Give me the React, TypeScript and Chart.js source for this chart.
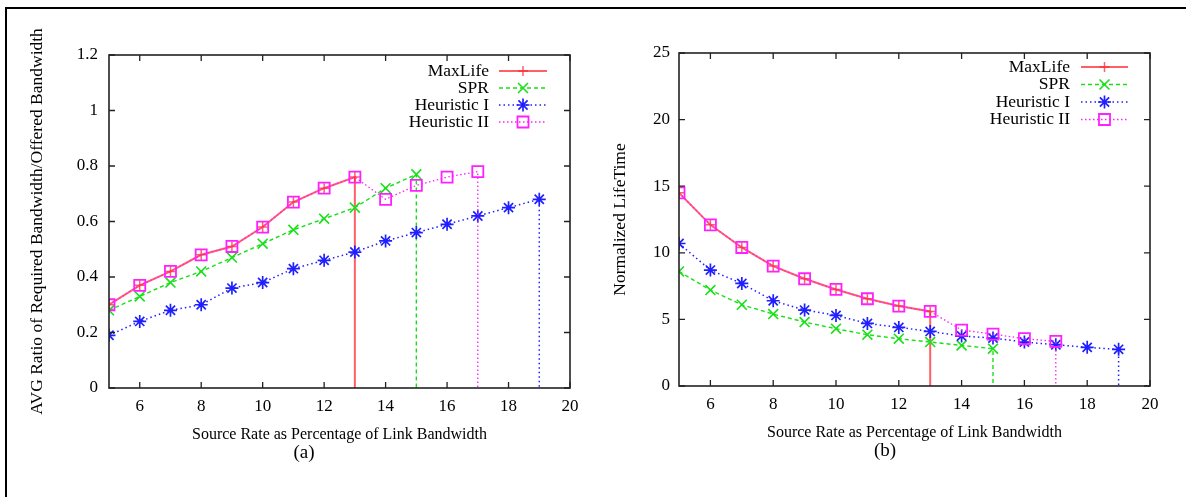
import React, { useEffect, useRef } from 'react';
import { Chart, registerables } from 'chart.js';

Chart.register(...registerables);

// ---------- data ----------
const xValues = [5, 6, 7, 8, 9, 10, 11, 12, 13, 14, 15, 16, 17, 18, 19];
const xTickValues = [6, 8, 10, 12, 14, 16, 18, 20];
const seriesNames = ['MaxLife', 'SPR', 'Heuristic I', 'Heuristic II'];

const leftYTicks = [0, 0.2, 0.4, 0.6, 0.8, 1, 1.2];
const leftMaxLife = [0.30, 0.37, 0.42, 0.48, 0.51, 0.58, 0.67, 0.72, 0.76];
const leftSPR = [0.28, 0.33, 0.38, 0.42, 0.47, 0.52, 0.57, 0.61, 0.65, 0.72, 0.77];
const leftH1 = [0.19, 0.24, 0.28, 0.30, 0.36, 0.38, 0.43, 0.46, 0.49, 0.53, 0.56, 0.59, 0.62, 0.65, 0.68];
const leftH2 = [0.30, 0.37, 0.42, 0.48, 0.51, 0.58, 0.67, 0.72, 0.76, 0.68, 0.73, 0.76, 0.78];

const rightYTicks = [0, 5, 10, 15, 20, 25];
const rightMaxLife = [14.5, 12.1, 10.4, 9.0, 8.05, 7.25, 6.55, 6.0, 5.6];
const rightSPR = [8.6, 7.2, 6.1, 5.4, 4.8, 4.3, 3.85, 3.55, 3.3, 3.05, 2.8];
const rightH1 = [10.7, 8.7, 7.7, 6.4, 5.7, 5.3, 4.7, 4.4, 4.1, 3.75, 3.6, 3.3, 3.1, 2.9, 2.75];
const rightH2 = [14.5, 12.1, 10.4, 9.0, 8.05, 7.25, 6.55, 6.0, 5.6, 4.2, 3.9, 3.55, 3.35];

const xTitle = 'Source Rate as Percentage of Link Bandwidth';
const leftYTitle = 'AVG Ratio of Required Bandwidth/Offered Bandwidth';
const rightYTitle = 'Normalized LifeTime';
const captions = ['(a)', '(b)'];

// ---------- styles ----------
const FONT = '"Liberation Serif", "Times New Roman", Times, serif';
const TEXT = '#000';

const seriesStyles = [
  { color: 'rgba(255,35,45,0.72)', dash: [] as number[], width: 2, point: 'cross', radius: 5, pw: 1.5, order: 3 },
  { color: '#18e018', dash: [4, 3], width: 1.4, point: 'crossRot', radius: 7, pw: 1.6, order: 2 },
  { color: '#2020ff', dash: [1.5, 3], width: 1.5, point: 'star', radius: 6.5, pw: 1.7, order: 1 },
  { color: '#ff20ff', dash: [1.5, 2.5], width: 1.3, point: 'rect', radius: 7.8, pw: 1.8, order: 0 },
];

function drawMarker(ctx: CanvasRenderingContext2D, type: string, x: number, y: number, r: number) {
  ctx.beginPath();
  if (type === 'cross' || type === 'star') {
    ctx.moveTo(x, y - r); ctx.lineTo(x, y + r);
    ctx.moveTo(x - r, y); ctx.lineTo(x + r, y);
  }
  if (type === 'crossRot' || type === 'star') {
    const o = r * Math.SQRT1_2;
    ctx.moveTo(x - o, y - o); ctx.lineTo(x + o, y + o);
    ctx.moveTo(x - o, y + o); ctx.lineTo(x + o, y - o);
  }
  if (type === 'rect') {
    const s = r * Math.SQRT1_2;
    ctx.rect(x - s, y - s, 2 * s, 2 * s);
  }
  ctx.stroke();
}

function makePoints(vals: number[]) {
  const pts = vals.map((v, i) => ({ x: xValues[i], y: v }));
  pts.push({ x: xValues[vals.length - 1], y: 0 });
  return pts;
}

const framePlugin = {
  id: 'frameTicks',
  afterDatasetsDraw(chart: any) {
    const { ctx, chartArea: a, scales } = chart;
    ctx.save();
    ctx.setLineDash([]);
    ctx.strokeStyle = '#222';
    ctx.lineWidth = 1.6;
    ctx.strokeRect(a.left, a.top, a.right - a.left, a.bottom - a.top);
    ctx.lineWidth = 1.3;
    const tl = 6;
    ctx.beginPath();
    scales.x.ticks.forEach((t: any) => {
      const px = scales.x.getPixelForValue(t.value);
      ctx.moveTo(px, a.bottom); ctx.lineTo(px, a.bottom - tl);
      ctx.moveTo(px, a.top); ctx.lineTo(px, a.top + tl);
    });
    scales.y.ticks.forEach((t: any) => {
      const py = scales.y.getPixelForValue(t.value);
      ctx.moveTo(a.left, py); ctx.lineTo(a.left + tl, py);
      ctx.moveTo(a.right, py); ctx.lineTo(a.right - tl, py);
    });
    ctx.stroke();
    ctx.restore();
  },
};

function makeLegendPlugin(cfg: any) {
  return {
    id: 'gnuLegend',
    afterDraw(chart: any) {
      const ctx = chart.ctx as CanvasRenderingContext2D;
      ctx.save();
      ctx.font = `${cfg.fontSize}px ${FONT}`;
      ctx.textAlign = 'right';
      ctx.textBaseline = 'middle';
      seriesNames.forEach((name, i) => {
        const st = seriesStyles[i];
        const y = cfg.y0 + i * cfg.dy;
        ctx.fillStyle = TEXT;
        ctx.fillText(name, cfg.textRight, y);
        ctx.strokeStyle = st.color;
        ctx.lineWidth = st.width;
        ctx.setLineDash(st.dash);
        ctx.beginPath();
        ctx.moveTo(cfg.lineStart, y);
        ctx.lineTo(cfg.lineEnd, y);
        ctx.stroke();
        ctx.setLineDash([]);
        ctx.lineWidth = st.pw;
        drawMarker(ctx, st.point, (cfg.lineStart + cfg.lineEnd) / 2, y, st.radius);
      });
      ctx.restore();
    },
  };
}

const panels = [
  {
    yMax: 1.2,
    yTicks: leftYTicks,
    yTitle: leftYTitle,
    series: [leftMaxLife, leftSPR, leftH1, leftH2],
    yAxisWidth: 109,
    yTitlePad: 26.5,
    yTickPad: 11,
    padding: { top: 55, right: 23, bottom: 49, left: 0 },
    legend: { textRight: 489, y0: 71, dy: 17, lineStart: 499, lineEnd: 547, fontSize: 17.5 },
  },
  {
    yMax: 25,
    yTicks: rightYTicks,
    yTitle: rightYTitle,
    series: [rightMaxLife, rightSPR, rightH1, rightH2],
    yAxisWidth: 86,
    yTitlePad: 17.2,
    yTickPad: 9,
    padding: { top: 53, right: 36, bottom: 51, left: 0 },
    legend: { textRight: 477, y0: 67, dy: 17.5, lineStart: 488, lineEnd: 535, fontSize: 17.5 },
  },
];

function buildChart(canvas: HTMLCanvasElement, p: any) {
  const datasets = p.series.map((vals: number[], i: number) => {
    const st = seriesStyles[i];
    const n = vals.length;
    return {
      label: seriesNames[i],
      data: makePoints(vals),
      borderColor: st.color,
      borderWidth: st.width,
      borderDash: st.dash,
      backgroundColor: 'rgba(0,0,0,0)',
      pointStyle: st.point,
      pointRadius: (c: any) => (c.dataIndex === n ? 0 : st.radius),
      pointBorderColor: st.color,
      pointBackgroundColor: 'rgba(0,0,0,0)',
      pointBorderWidth: st.pw,
      tension: 0,
      fill: false,
      order: st.order,
    };
  });
  return new Chart(canvas, {
    type: 'line',
    data: { datasets },
    plugins: [framePlugin, makeLegendPlugin(p.legend)],
    options: {
      responsive: false,
      animation: false,
      events: [],
      layout: { padding: p.padding },
      plugins: { legend: { display: false }, tooltip: { enabled: false } },
      scales: {
        x: {
          type: 'linear',
          min: 5,
          max: 20,
          afterBuildTicks: (s: any) => { s.ticks = xTickValues.map((v) => ({ value: v })); },
          afterFit: (s: any) => { s.height = 60; },
          grid: { display: false, drawTicks: false },
          border: { display: false },
          ticks: { padding: 8, autoSkip: false, maxRotation: 0, color: TEXT, font: { family: FONT, size: 17 } },
          title: { display: true, text: xTitle, color: TEXT, font: { family: FONT, size: 16 }, padding: { top: 0, bottom: 4 } },
        },
        y: {
          type: 'linear',
          min: 0,
          max: p.yMax,
          afterBuildTicks: (s: any) => { s.ticks = p.yTicks.map((v: number) => ({ value: v })); },
          afterFit: (s: any) => { s.width = p.yAxisWidth; },
          grid: { display: false, drawTicks: false },
          border: { display: false },
          ticks: {
            padding: p.yTickPad,
            color: TEXT,
            font: { family: FONT, size: 17 },
            callback: (v: any) => String(parseFloat(Number(v).toFixed(2))),
          },
          title: { display: true, text: p.yTitle, color: TEXT, font: { family: FONT, size: 17.5 }, padding: { top: p.yTitlePad, bottom: 0 } },
        },
      },
    },
  } as any);
}

export default function App() {
  const refA = useRef<HTMLCanvasElement>(null);
  const refB = useRef<HTMLCanvasElement>(null);

  useEffect(() => {
    const charts: Chart[] = [];
    [refA, refB].forEach((r, i) => {
      if (r.current) charts.push(buildChart(r.current, panels[i]));
    });
    return () => charts.forEach((c) => c.destroy());
  }, []);

  const capStyle: React.CSSProperties = {
    position: 'absolute',
    fontFamily: FONT,
    fontSize: 19,
    color: TEXT,
    lineHeight: '20px',
    transform: 'translate(-50%, -50%)',
    whiteSpace: 'nowrap',
  };

  return (
    <div style={{ position: 'absolute', left: 0, top: 0, width: 1186, height: 497, background: '#fff', overflow: 'hidden' }}>
      <div style={{ position: 'absolute', left: 5, top: 7, width: 1181, height: 490, borderTop: '2px solid #000', borderLeft: '2px solid #000', boxSizing: 'border-box' }} />
      <canvas ref={refA} width={593} height={497} style={{ position: 'absolute', left: 0, top: 0, width: 593, height: 497 }} />
      <canvas ref={refB} width={593} height={497} style={{ position: 'absolute', left: 593, top: 0, width: 593, height: 497 }} />
      <div style={{ ...capStyle, left: 304, top: 452 }}>{captions[0]}</div>
      <div style={{ ...capStyle, left: 885, top: 450 }}>{captions[1]}</div>
    </div>
  );
}
